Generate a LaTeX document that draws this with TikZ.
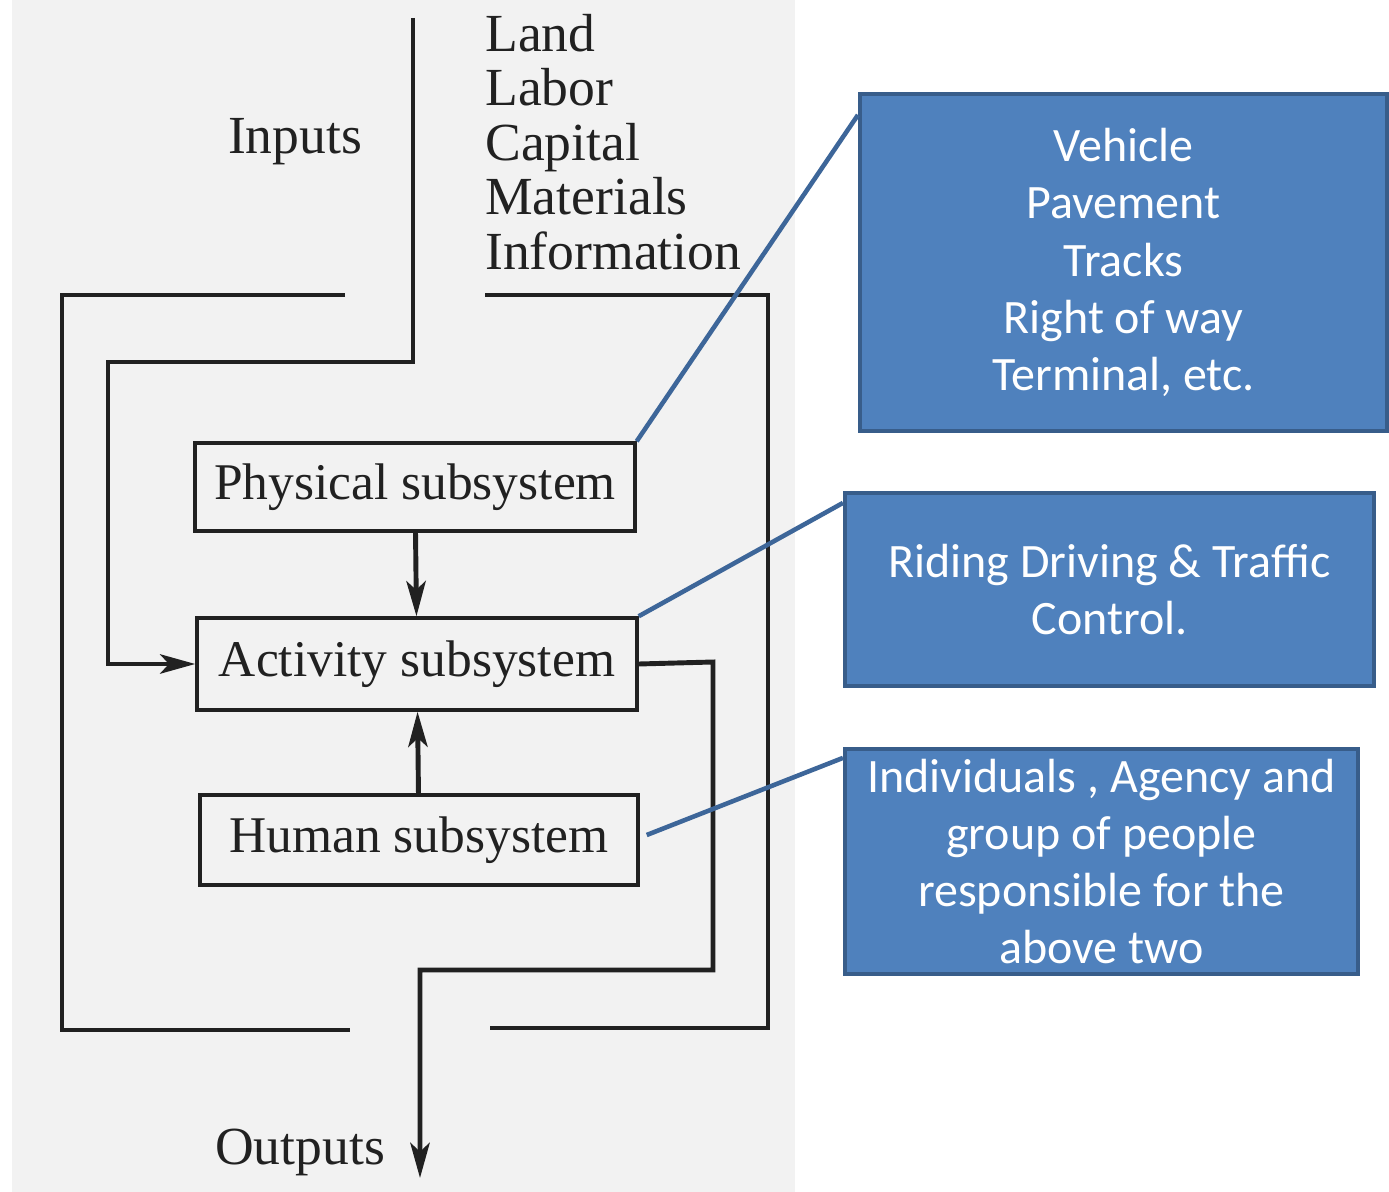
\documentclass[tikz,border=0pt]{standalone}
\usepackage{fontspec}
\setmainfont{Liberation Serif}
\newfontfamily\boxfont{Carlito}
\usepackage{tikz}
\usetikzlibrary{calc,positioning,arrows.meta}
\definecolor{scanbg}{rgb}{0.95, 0.95, 0.95}
\definecolor{ink}{rgb}{0.13, 0.13, 0.13}
\definecolor{boxblue}{rgb}{0.31, 0.506, 0.741}
\definecolor{boxedge}{rgb}{0.22, 0.365, 0.54}
\definecolor{callout}{rgb}{0.24, 0.4, 0.6}

\begin{document}
\begin{tikzpicture}[x=0.02cm, y=-0.02cm, >={Stealth[length=20pt, width=11pt, inset=5pt]}]
	% ------------------------------------------------------------------
	% STYLE DEFINITIONS
	% ------------------------------------------------------------------
	\tikzset{
		subsys/.style = {draw=ink, line width=2pt, minimum width=8.8cm, minimum height=1.76cm,
			inner sep=0pt, text=ink, font=\fontsize{29.3}{31}\selectfont},
		flow/.style   = {draw=ink, line width=2.8pt, line join=miter},
		frame/.style  = {draw=ink, line width=2pt},
		label/.style  = {text=ink, font=\fontsize{30.5}{31}\selectfont, inner sep=0pt},
		note/.style   = {draw=boxedge, fill=boxblue, line width=2.4pt, text=white, align=center,
			inner sep=0pt, font=\boxfont\fontsize{27.3}{32.6}\selectfont},
		link/.style   = {draw=callout, line width=2.6pt},
	}
	\useasboundingbox (0,0) rectangle (1389,1192);
	\fill[scanbg] (12,0) rectangle (795,1192);
	
	% ------------------------------------------------------------------
	% SUBSYSTEMS
	% ------------------------------------------------------------------
	\node[subsys] (phys) at (415,487) {Physical subsystem};
	\node[subsys, minimum height=1.84cm] (act) at (417,664) {Activity subsystem};
	\node[subsys, minimum width=8.76cm, minimum height=1.8cm] (hum) at (419,840) {Human subsystem};
	
	% ------------------------------------------------------------------
	% LABELS
	% ------------------------------------------------------------------
	\node[label] (inputs) at (295,142) {Inputs};
	\node[label, anchor=north west, align=left] (res) at (485,14)
		{Land\\Labor\\Capital\\Materials\\Information};
	\node[label] (outputs) at (300,1152) {Outputs};
	
	% ------------------------------------------------------------------
	% FLOWS
	% ------------------------------------------------------------------
	\coordinate (in) at (413,18);
	\coordinate (out) at (420,1178);
	\draw[flow,->] (in) -- (413,362) -- (108,362) -- (108,664) -- (act.west);
	\draw[flow,->] (phys) -- (act);
	\draw[flow,->] (hum) -- (act);
	\draw[flow,->] (act.east) -- (713,662) -- (713,970) -- (420,970) -- (out);
	
	% outer boundary, open at input and output
	\draw[frame] (345,295) -- (62,295) -- (62,1030) -- (350,1030);
	\draw[frame] (485,295) -- (768,295) -- (768,1028) -- (490,1028);
	
	% ------------------------------------------------------------------
	% CALLOUTS
	% ------------------------------------------------------------------
	\node[note, minimum width=10.54cm, minimum height=6.74cm] (veh) at (1123.5,262.5)
		{Vehicle\\Pavement\\Tracks\\Right of way\\Terminal, etc.};
	\node[note, minimum width=10.58cm, minimum height=3.86cm] (rid) at (1109.5,589.5)
		{Riding Driving \& Traffic\\Control.};
	\node[note, minimum width=10.26cm, minimum height=4.5cm] (ind) at (1101.5,861.5)
		{Individuals , Agency and\\group of people\\responsible for the\\above two};
	
	\draw[link] (phys.north east) -- ($(veh.north west)+(0,23)$);
	\draw[link] (act.north east) -- ($(rid.north west)+(0,12)$);
	\draw[link] ($(hum.east)+(7,-5)$) -- ($(ind.north west)+(0,11)$);
	
\end{tikzpicture}
\end{document}
